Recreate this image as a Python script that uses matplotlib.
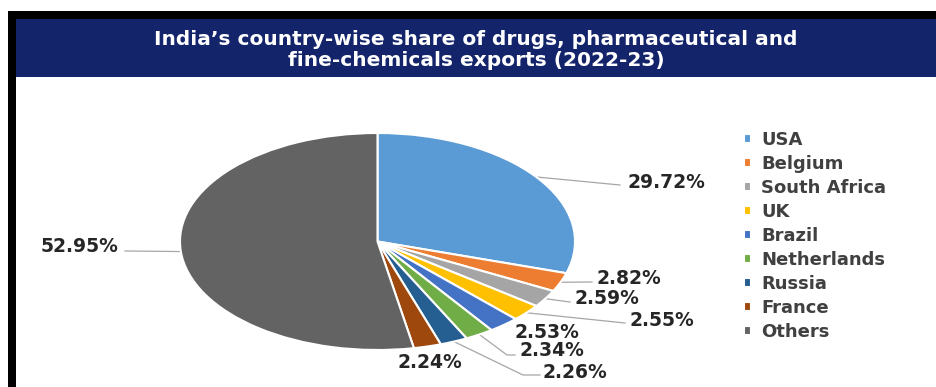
import matplotlib
matplotlib.use('Agg')
import matplotlib.pyplot as plt
from matplotlib.patches import Rectangle
import numpy as np

countries = ['USA', 'Belgium', 'South Africa', 'UK', 'Brazil',
             'Netherlands', 'Russia', 'France', 'Others']
shares = [29.72, 2.82, 2.59, 2.55, 2.53, 2.34, 2.26, 2.24, 52.95]
colors = ['#5B9BD5', '#ED7D31', '#A5A5A5', '#FFC000', '#4472C4',
          '#70AD47', '#255E91', '#9E480E', '#636363']

title = "India\u2019s country-wise share of drugs, pharmaceutical and\nfine-chemicals exports (2022-23)"

# label text spot in pixel space (x, y, ha) plus extra leader points
label_pos = [(628, 182, 'left'), (597, 278, 'left'), (575, 298, 'left'),
             (630, 320, 'left'), (515, 332, 'left'), (520, 350, 'left'),
             (543, 372, 'left'), (398, 363, 'left'), (118, 247, 'right')]
leader_pts = [[(620, 185)], [(592, 282)], [(570, 302)], [(625, 323)], None,
              [(507, 355), (515, 355)], [(523, 375), (540, 375)], None,
              [(125, 251)]]

W, H = 937, 387
fig = plt.figure(figsize=(W / 100, H / 100), dpi=100)
fig.patch.set_facecolor('white')

# background axes in pixel units: frame, banner, labels
bg = fig.add_axes([0, 0, 1, 1], zorder=0)
bg.set_xlim(0, W)
bg.set_ylim(H, 0)
bg.axis('off')
bg.add_patch(Rectangle((8, 11), W, H, facecolor='black', edgecolor='none'))
bg.add_patch(Rectangle((16, 19), W, H, facecolor='white', edgecolor='none'))
bg.add_patch(Rectangle((16, 19), W, 58, facecolor='#13246A', edgecolor='none'))
bg.text(476, 50, title, color='white', ha='center', va='center',
        fontsize=14.5, fontweight='bold', family='DejaVu Sans', linespacing=1.18)

# pie stretched into an ellipse like the source sheet
ax = fig.add_axes([180 / W, 1 - 350 / H, 395 / W, 217 / H], zorder=1)
wedges, _ = ax.pie(shares, colors=colors, startangle=90, counterclock=False,
                   wedgeprops=dict(edgecolor='white', linewidth=1.5))
ax.set_aspect('auto')
ax.set_xlim(-1, 1)
ax.set_ylim(-1, 1)
ax.patch.set_alpha(0)

to_bg = bg.transData.inverted()
for w, val, (tx, ty, ha), pts in zip(wedges, shares, label_pos, leader_pts):
    mid = np.deg2rad((w.theta1 + w.theta2) / 2)
    disp = ax.transData.transform((np.cos(mid), np.sin(mid)))
    ax0, ay0 = to_bg.transform(disp)
    if pts:
        xs = [ax0] + [p[0] for p in pts]
        ys = [ay0] + [p[1] for p in pts]
        bg.plot(xs, ys, color='#A6A6A6', lw=0.9)
    bg.text(tx, ty, f'{val:.2f}%', ha=ha, va='center', fontsize=13.5,
            fontweight='bold', color='#262626', family='DejaVu Sans')

fig.legend(wedges, countries, loc='upper left',
           bbox_to_anchor=(744 / W, 1 - 131 / H), frameon=False,
           handlelength=0.4, handleheight=0.4, handletextpad=0.55,
           borderpad=0, borderaxespad=0, labelspacing=0.33,
           prop=dict(family='DejaVu Sans', weight='bold', size=13),
           labelcolor='#404040')

fig.savefig('out.png', dpi=100)
